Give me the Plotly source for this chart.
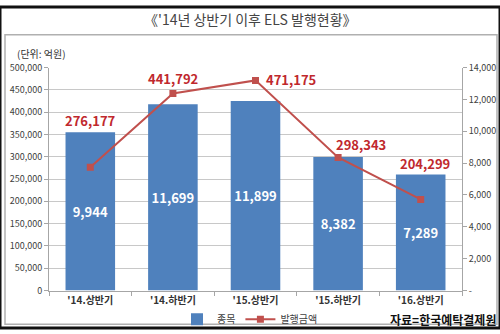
import plotly.graph_objects as go

categories = ["'14.상반기", "'14.하반기", "'15.상반기", "'15.하반기", "'16.상반기"]
count_values = [9944, 11699, 11899, 8382, 7289]
amount_values = [276177, 441792, 471175, 298343, 204299]
left_ticks = list(range(0, 500001, 50000))
right_ticks = list(range(0, 14001, 2000))
right_ticktext = ["-"] + [f"{v:,}" for v in right_ticks[1:]]

FONT = "Noto Sans CJK KR, Noto Sans, sans-serif"
BLUE = "#4F81BD"
RED = "#C0504D"
LABEL_RED = "#C0282D"

fig = go.Figure()
# bars on primary axis (right side), line on overlaying axis (left side) so line draws on top
fig.add_trace(go.Bar(
    x=categories, y=count_values, name="종목", yaxis="y",
    marker=dict(color=BLUE, line=dict(width=0)), width=0.6,
    text=[f"{v:,}" for v in count_values], textposition="inside",
    insidetextanchor="middle",
    textfont=dict(color="white", size=13, family=FONT, weight="bold"),
))
fig.add_trace(go.Scatter(
    x=categories, y=amount_values, name="발행금액", yaxis="y2",
    mode="lines+markers", line=dict(color=RED, width=2),
    marker=dict(symbol="square", size=7, color=RED),
))

# line value labels: (xshift, yshift) offsets in pixels
offsets = [(0, 47), (0, 15), (35, 1), (23, 13), (4, 36)]
for c, v, (dx, dy) in zip(categories, amount_values, offsets):
    fig.add_annotation(x=c, y=v, xref="x", yref="y2", text=f"<b>{v:,}</b>",
                       showarrow=False, xshift=dx, yshift=dy,
                       font=dict(color=LABEL_RED, size=13, family=FONT))

fig.update_layout(
    width=500, height=334, margin=dict(l=0, r=0, t=0, b=0),
    paper_bgcolor="white", plot_bgcolor="white",
    font=dict(family=FONT, color="#404040"),
    bargap=0.4, showlegend=True,
    legend=dict(orientation="h", x=0.50, y=0.027, xanchor="center", yanchor="middle",
                font=dict(size=10, color="#404040", family=FONT), itemwidth=30,
                tracegroupgap=0, bgcolor="rgba(0,0,0,0)"),
    xaxis=dict(domain=[0.098, 0.924], type="category",
               tickfont=dict(size=10, color="#333333", family=FONT, weight="bold"),
               showline=True, linecolor="#A6A6A6", linewidth=1,
               ticks="outside", tickson="boundaries", ticklen=4, tickcolor="#A6A6A6",
               showgrid=False),
    yaxis=dict(domain=[0.1168, 0.8114], range=[0, 14000], side="right",
               tickvals=right_ticks, ticktext=right_ticktext,
               tickfont=dict(size=9, color="#404040", family=FONT),
               showgrid=False, showline=True, linecolor="#A6A6A6",
               ticks="outside", ticklen=4, tickcolor="#A6A6A6", zeroline=False,
               minor=dict(tick0=0, dtick=1400, showgrid=True, gridcolor="#C8C8C8",
                          gridwidth=1, ticks="")),
    yaxis2=dict(domain=[0.1168, 0.8114], range=[0, 500000], overlaying="y", side="left",
                tickvals=left_ticks, ticktext=[f"{v:,}" for v in left_ticks],
                tickfont=dict(size=9, color="#404040", family=FONT),
                showgrid=False, showline=True, linecolor="#A6A6A6", ticks="outside",
                ticklen=4, tickcolor="#A6A6A6", zeroline=False),
)

# title and notes
fig.add_annotation(x=0.5, y=1 - 12/334, xref="paper", yref="paper",
                   text="《'14년 상반기 이후 ELS 발행현황》", showarrow=False,
                   font=dict(size=14, color="#444444", family=FONT), yanchor="middle")
fig.add_annotation(x=15/500, y=1 - 48/334, xref="paper", yref="paper",
                   text="(단위: 억원)", showarrow=False, xanchor="left", yanchor="middle",
                   font=dict(size=10, color="#333333", family=FONT))
fig.add_annotation(x=498/500, y=1 - 325/334, xref="paper", yref="paper",
                   text="<b>자료=한국예탁결제원</b>", showarrow=False, xanchor="right",
                   yanchor="middle", font=dict(size=12, color="#111111", family=FONT))

# frames
fig.add_shape(type="rect", xref="paper", yref="paper",
              x0=5/500, x1=497/500, y0=1 - 330/334, y1=1 - 29/334,
              line=dict(color="#B0B0B0", width=1.5), layer="below")
fig.add_shape(type="rect", xref="paper", yref="paper", x0=0, x1=1, y0=0, y1=1,
              line=dict(color="#111111", width=3), layer="above")

fig.write_html("out.html")
